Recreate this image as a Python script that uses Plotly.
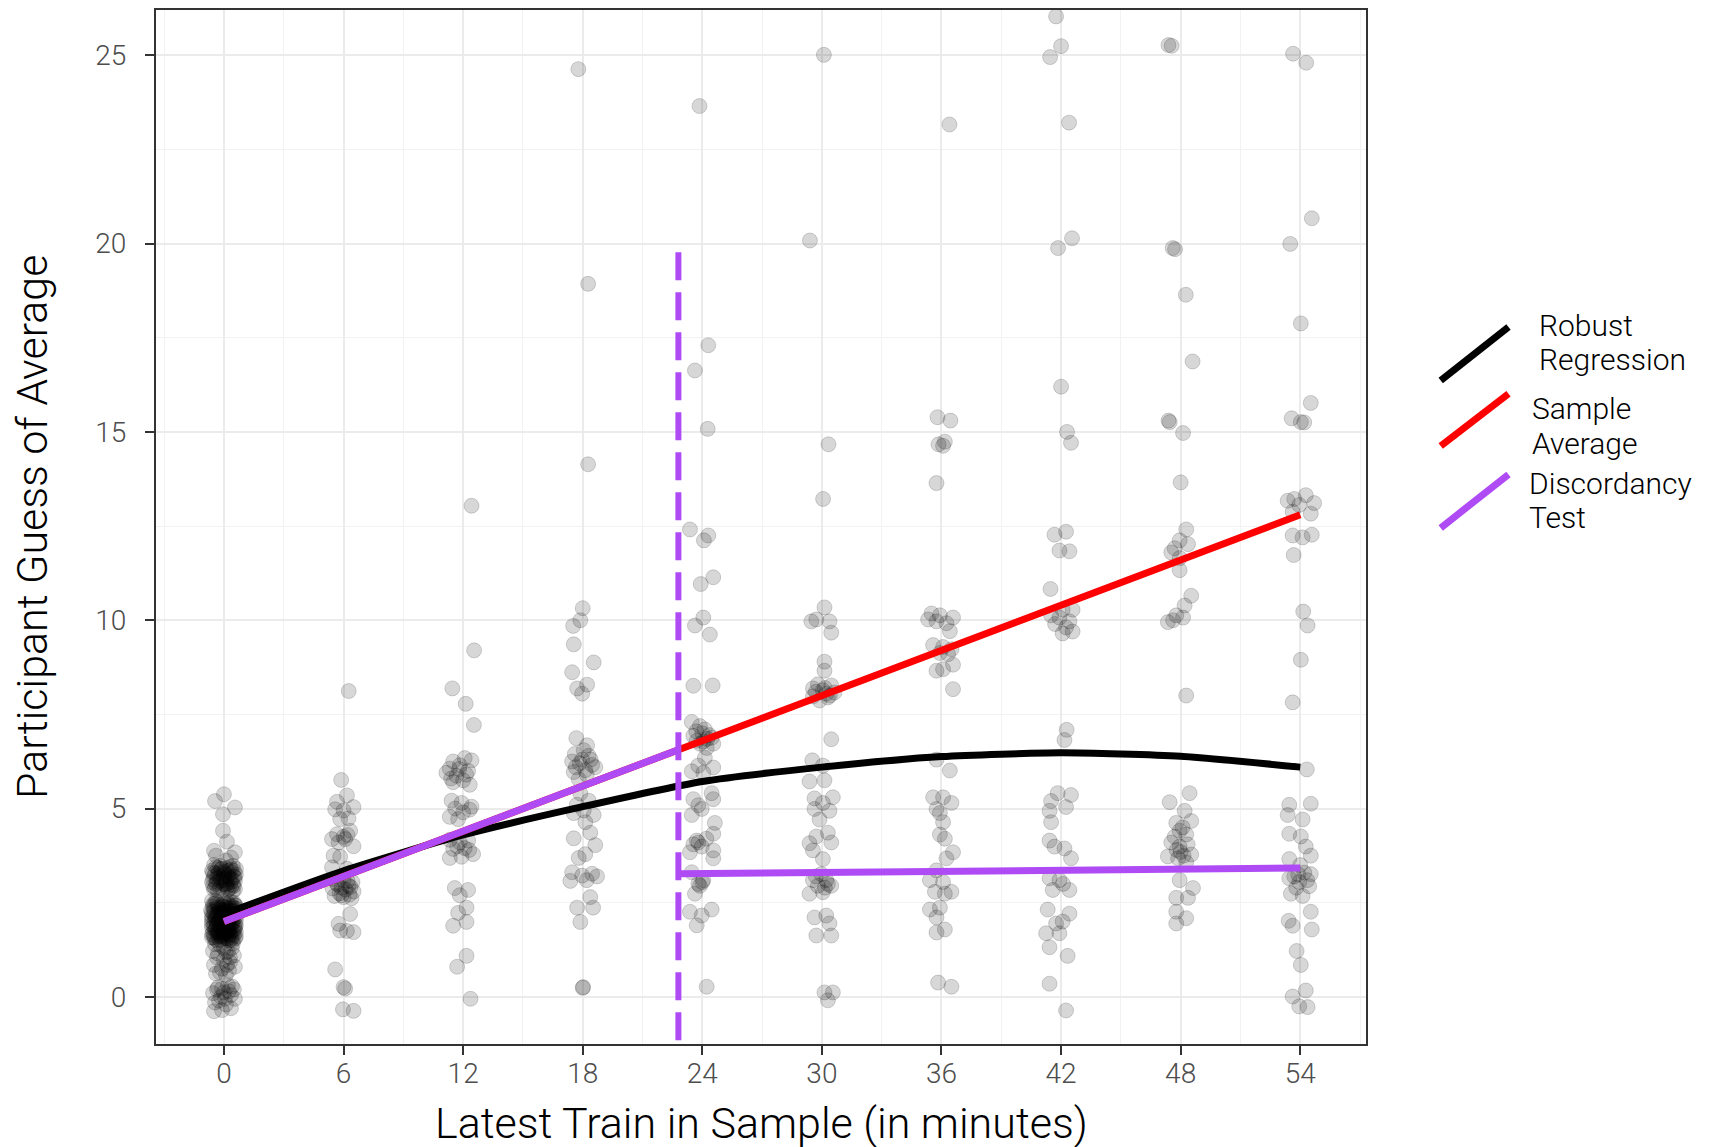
import plotly.graph_objects as go

# ---------------- data ----------------
x_levels = [0, 6, 12, 18, 24, 30, 36, 42, 48, 54]

# jittered guesses per column: (x offset, guess)
col_0 = [(0.0,5.38),(-0.45,5.2),(0.55,5.03),(-0.05,4.85),(-0.05,4.41),(0.15,4.12),(-0.5,3.88),(0.55,3.84),(-0.4,3.75),(0.35,3.7),(0.1,3.62),
         (-0.5,3.5),(-0.2,3.48),(0.3,3.45),(0.6,3.4),(-0.6,3.35),(0.0,3.32),(0.4,3.3),(-0.3,3.25),(0.2,3.2),(0.55,3.18),(-0.55,3.12),(-0.1,3.1),(0.35,3.05),(-0.4,3.0),(0.1,2.98),(0.5,2.95),(-0.2,2.9),(0.25,2.88),(-0.5,2.85),(0.45,2.8),(0.0,3.15),(-0.15,3.38),(0.15,2.92),(-0.35,3.05),
         (-0.4,3.45),(0.1,3.42),(0.5,3.35),(-0.25,3.3),(0.25,3.25),(-0.5,3.2),(0.0,3.22),(0.4,3.12),(-0.2,3.08),(0.15,3.02),(-0.55,2.95),(0.35,2.9),(-0.05,2.85),(0.55,2.86),(-0.3,2.82),
         (-0.1,3.4),(0.45,3.48),(-0.45,3.28),(0.2,3.35),(0.6,3.25),(-0.2,3.18),(0.3,3.15),(-0.6,3.05),(0.0,3.0),(0.45,2.98),
         (-0.6,2.55),(0.0,2.52),(0.5,2.5),(-0.3,2.45),(0.3,2.42),(-0.55,2.4),(0.1,2.38),(0.6,2.35),(-0.2,2.32),(0.35,2.3),(-0.5,2.27),(0.0,2.25),(0.55,2.22),(-0.35,2.2),(0.2,2.18),(-0.6,2.15),(0.45,2.12),(-0.1,2.1),(0.3,2.08),(-0.45,2.05),(0.6,2.03),(0.05,2.0),(-0.25,1.98),(0.4,1.95),(-0.6,1.92),(0.15,1.9),(-0.15,1.88),(0.55,1.85),(-0.4,1.82),(0.25,1.8),(-0.05,1.78),(0.5,1.75),(-0.55,1.72),(0.1,1.7),(-0.3,1.68),(0.35,1.65),(-0.1,1.62),(0.6,1.6),(-0.5,1.58),(0.2,1.55),(-0.2,1.52),(0.45,1.5),(0.0,2.3),(0.0,1.9),(-0.4,2.1),(0.3,1.7),(0.4,2.4),(-0.3,1.6),
         (-0.45,2.48),(0.25,2.47),(-0.1,2.43),(0.55,2.44),(-0.65,2.3),(0.15,2.28),(0.45,2.26),(-0.25,2.24),(0.05,2.15),(-0.5,2.18),(0.35,2.16),(0.6,2.12),(-0.2,2.05),(0.2,2.02),(-0.6,2.0),(0.45,1.98),(-0.35,1.95),(0.0,1.94),(0.3,1.88),(-0.5,1.86),(0.6,1.9),(-0.1,1.82),(0.15,1.8),(0.45,1.78),(-0.3,1.75),(0.0,1.72),(-0.6,1.66),(0.25,1.62),(0.5,1.64),(-0.15,1.58),(0.1,1.56),(-0.45,1.54),(0.35,1.52),(0.0,1.6),(-0.25,2.35),(0.2,2.33),(-0.4,2.55),(0.15,2.5),
         (-0.35,2.5),(0.35,2.52),(-0.05,2.4),(0.5,2.36),(-0.5,2.33),(0.25,2.22),(-0.15,2.2),(0.5,2.18),(-0.45,2.12),(0.1,2.06),(0.4,2.04),(-0.3,2.02),(0.15,1.96),(-0.5,1.94),(0.55,1.92),(-0.2,1.85),(0.35,1.82),(-0.45,1.78),(0.05,1.76),(0.6,1.72),(-0.25,1.7),(0.2,1.68),(-0.5,1.63),(0.4,1.58),(-0.05,1.55),(0.25,1.5),(-0.35,1.5),
         (-0.55,2.45),(0.05,2.46),(0.6,2.42),(-0.3,2.38),(0.3,2.36),(-0.6,2.25),(-0.05,2.28),(0.55,2.28),(-0.3,2.15),(0.25,2.12),(-0.6,2.08),(0.0,2.06),(0.5,2.06),(-0.35,1.92),(0.25,1.93),(-0.6,1.84),(0.05,1.84),(0.55,1.8),(-0.35,1.72),(0.25,1.74),(-0.6,1.58),(0.0,1.66),(0.55,1.55),(-0.2,1.62),
         (-0.3,3.42),(0.35,3.38),(-0.55,3.3),(0.05,3.28),(0.5,3.2),(-0.35,3.15),(0.1,3.1),(0.55,3.08),(-0.45,2.9),(0.2,2.84),
         (-0.2,1.38),(0.4,1.3),(-0.55,1.22),(0.1,1.18),(0.5,1.1),(-0.35,1.05),(0.0,0.98),(0.3,0.92),(-0.5,0.85),(0.55,0.8),(-0.1,0.75),(0.25,0.7),(-0.4,0.62),(0.1,0.58),
         (0.0,1.3),(-0.3,1.15),(0.3,1.05),(0.15,0.85),(-0.2,0.65),(0.45,1.42),(-0.45,1.4),(0.2,1.2),
         (-0.3,0.25),(0.2,0.3),(0.5,0.2),(-0.55,0.1),(0.0,0.12),(0.35,0.05),(-0.15,0.0),(0.55,-0.05),(-0.45,-0.15),(0.1,-0.2),(-0.1,-0.35),(0.35,-0.3),(-0.5,-0.38),
         (0.25,0.15),(-0.25,-0.1),(0.05,-0.05),(-0.35,0.2),(0.4,0.28),(-0.1,0.22)]
col_6 = [(0.26,8.12),(-0.12,5.76),(0.17,5.35),(-0.33,5.18),(0.5,5.04),(-0.42,4.98),(0.0,4.95),(0.25,4.74),(-0.17,4.72),(0.33,4.41),(-0.33,4.32),(-0.58,4.19),(0.08,4.19),(0.5,4.0),(-0.5,3.75),(-0.17,3.72),(-0.58,3.44),(0.17,3.4),
         (-0.5,3.13),(0.0,3.1),(0.45,3.05),(-0.3,2.98),(0.25,2.95),(-0.55,2.88),(0.1,2.85),(0.5,2.8),(-0.2,2.75),(0.3,2.72),(-0.45,2.68),(0.0,2.65),(0.4,2.62),(-0.1,2.9),
         (-0.35,3.02),(0.2,3.08),(-0.1,2.7),(0.35,2.92),(0.0,4.25),(-0.25,4.1),(0.2,4.3),
         (0.33,2.2),(-0.25,1.94),(-0.17,1.76),(0.17,1.75),(0.5,1.72),(-0.42,0.73),(0.0,0.26),(0.08,0.22),(-0.03,-0.33),(0.5,-0.37)]
col_12 = [(0.42,13.04),(0.55,9.2),(-0.54,8.19),(0.13,7.78),(0.54,7.22),
          (-0.5,6.25),(0.08,6.34),(0.42,6.28),(-0.67,6.06),(-0.17,6.15),(0.25,6.0),(-0.33,5.87),(0.33,5.63),(-0.84,5.95),(0.0,5.75),(-0.5,5.7),
          (-0.2,6.05),(0.15,5.9),(-0.6,5.8),
          (-0.58,5.21),(-0.08,5.15),(0.33,4.97),(-0.67,4.78),(-0.25,4.72),(0.42,5.05),(0.0,4.9),(-0.4,5.0),
          (-0.67,4.17),(-0.17,4.1),(0.25,4.15),(-0.5,3.93),(0.08,3.95),(0.5,3.79),(-0.67,3.69),(-0.08,3.72),(0.3,3.9),(-0.3,4.0),
          (-0.42,2.89),(0.25,2.84),(-0.17,2.7),(0.17,2.37),(-0.25,2.23),(-0.5,1.89),(0.17,1.99),(0.17,1.09),(-0.3,0.8),(0.37,-0.05)]
col_18 = [(-0.22,24.63),(0.27,18.93),(0.27,14.14),
          (0.0,10.32),(-0.12,10.0),(-0.48,9.85),(-0.45,9.36),(0.55,8.88),(-0.53,8.62),(0.22,8.29),(-0.28,8.19),(-0.03,8.05),
          (-0.32,6.87),(0.22,6.68),(-0.53,6.25),(-0.03,6.3),(0.47,6.16),(-0.45,5.97),(0.13,6.02),(0.63,6.1),(-0.2,5.78),(0.3,6.4),(-0.4,6.45),(0.05,6.55),
          (-0.15,6.2),(0.4,6.3),(-0.35,6.1),(0.2,5.9),
          (-0.12,5.4),(0.3,5.21),(-0.45,4.88),(0.05,4.95),(0.55,4.83),(0.13,4.64),(-0.3,5.1),
          (-0.45,4.21),(0.38,4.36),(0.63,4.03),(-0.2,3.69),(0.13,3.79),
          (-0.53,3.31),(-0.03,3.22),(0.47,3.27),(-0.62,3.08),(0.72,3.2),(0.2,3.1),
          (0.38,2.65),(-0.28,2.37),(0.52,2.37),(-0.12,1.99),(0.0,0.24),(0.02,0.26)]
col_24 = [(-0.14,23.65),(0.3,17.3),(-0.37,16.63),(0.27,15.08),
          (-0.62,12.41),(0.3,12.25),(0.08,12.12),(-0.08,10.96),(0.55,11.14),(0.05,10.07),(-0.37,9.86),(0.38,9.62),(-0.45,8.26),(0.52,8.27),
          (-0.53,7.3),(-0.12,7.19),(0.13,7.1),(-0.45,6.93),(0.47,6.88),(-0.12,6.72),(0.22,6.61),(-0.28,6.8),(0.55,6.72),(0.0,7.0),(0.35,6.95),
          (-0.3,7.05),(0.25,6.85),(0.05,6.78),
          (0.13,6.35),(-0.2,6.14),(0.55,6.09),(-0.53,5.99),(0.05,5.95),
          (0.47,5.41),(-0.45,5.25),(0.55,5.25),(-0.2,5.09),(-0.03,4.99),(-0.53,4.83),
          (0.63,4.62),(0.55,4.33),(-0.28,4.15),(-0.45,4.05),(-0.03,3.99),(-0.62,3.84),(0.55,3.89),(0.55,3.68),(-0.2,4.1),(0.2,4.2),
          (-0.53,3.31),(0.05,3.1),(-0.12,2.95),(-0.37,2.74),(0.0,3.05),(-0.2,3.0),
          (-0.62,2.26),(0.47,2.32),(-0.03,2.16),(-0.28,1.9),(0.22,0.27)]
col_30 = [(0.1,25.01),(-0.6,20.08),(0.33,14.67),(0.06,13.22),
          (0.13,10.34),(-0.53,9.97),(-0.28,10.02),(0.38,9.97),(0.47,9.67),(0.13,8.9),(0.13,8.66),
          (-0.45,8.19),(0.05,8.14),(0.47,8.27),(0.63,8.08),(-0.45,7.98),(0.22,8.05),(-0.12,7.87),(0.3,7.95),(-0.2,8.3),
          (-0.3,8.1),(0.15,8.2),(0.4,8.0),
          (0.47,6.84),(-0.48,6.28),(0.05,6.14),
          (-0.62,5.72),(0.13,5.75),(-0.37,5.27),(0.55,5.3),(0.05,5.15),(0.38,4.94),(-0.37,4.99),(-0.12,4.71),
          (0.3,4.36),(-0.28,4.26),(-0.62,4.08),(0.47,4.1),(-0.45,3.89),(0.05,3.66),
          (-0.03,3.26),(-0.45,3.1),(0.22,3.1),(-0.2,2.95),(0.47,2.95),(-0.62,2.74),(0.05,2.78),(0.3,3.0),(-0.3,3.2),(0.15,2.9),
          (-0.37,2.11),(0.22,2.16),(0.38,1.95),(0.47,1.63),(-0.28,1.63),
          (0.13,0.12),(0.55,0.12),(0.3,-0.09)]
col_36 = [(0.4,23.16),(-0.2,15.39),(0.45,15.3),(-0.15,14.67),(0.17,14.74),(0.08,14.63),(-0.25,13.64),
          (-0.5,10.18),(-0.08,10.13),(0.58,10.07),(-0.67,10.02),(-0.25,9.97),(0.25,9.92),(0.42,9.71),(-0.42,9.34),(0.08,9.29),(0.5,9.23),(-0.08,9.13),(0.33,9.1),(0.58,8.82),(-0.25,8.66),(0.08,8.7),
          (0.58,8.17),(-0.25,6.3),(0.42,6.01),
          (-0.42,5.3),(0.08,5.3),(0.5,5.15),(-0.25,4.99),(-0.08,4.88),(0.08,4.64),(-0.08,4.31),(0.17,4.2),(0.58,3.84),(0.25,3.68),(-0.25,3.36),(-0.58,3.1),(0.08,3.05),(-0.33,2.79),(0.17,2.74),(0.5,2.79),(-0.58,2.32),(-0.08,2.37),(-0.25,2.11),(0.17,1.79),(-0.25,1.71),
          (-0.17,0.38),(0.5,0.27)]
col_42 = [(-0.25,26.03),(0.0,25.24),(-0.55,24.95),(0.4,23.21),(0.55,20.14),(-0.15,19.88),(0.0,16.2),(0.3,15.0),(0.5,14.71),
          (-0.33,12.27),(0.25,12.35),(-0.08,11.85),(0.42,11.83),(-0.53,10.83),
          (0.08,10.28),(0.58,10.28),(-0.5,10.13),(-0.08,10.07),(0.42,9.97),(0.25,9.81),(0.08,9.65),(0.58,9.7),(-0.3,9.9),
          (0.28,7.09),(0.17,6.82),
          (-0.17,5.41),(0.5,5.36),(-0.5,5.2),(0.25,5.04),(-0.58,4.94),(-0.5,4.64),(-0.58,4.15),(0.17,3.94),(-0.33,3.99),(0.5,3.68),(-0.58,3.15),(-0.08,3.1),(0.42,2.84),(-0.42,2.84),(0.1,3.0),(-0.67,2.32),(0.08,2.0),(0.42,2.21),(-0.25,1.95),(-0.75,1.69),(-0.08,1.69),(-0.58,1.32),(0.33,1.09),(-0.58,0.35),(0.25,-0.36)]
col_48 = [(-0.61,25.27),(-0.45,25.25),(-0.4,19.88),(-0.28,19.85),(0.26,18.64),(0.6,16.87),(-0.61,15.3),(-0.55,15.26),(0.12,14.97),(0.0,13.66),
          (0.28,12.41),(-0.05,12.12),(-0.3,11.91),(0.37,12.02),(-0.47,11.8),(-0.05,11.65),(-0.05,11.33),
          (0.53,10.65),(0.2,10.39),(-0.22,10.13),(-0.64,9.95),(0.12,10.07),(-0.38,10.0),
          (0.28,8.0),
          (-0.55,5.17),(0.45,5.41),(0.2,4.94),(-0.22,4.62),(0.53,4.67),(-0.05,4.41),(0.28,4.31),(-0.47,4.1),(-0.05,3.99),(0.53,3.78),(-0.64,3.73),(-0.13,3.68),(0.28,3.57),(0.0,3.85),(0.35,4.05),(-0.3,4.25),
          (0.1,4.5),(-0.2,3.9),(0.15,3.75),
          (-0.05,3.1),(0.62,2.89),(-0.22,2.63),(0.37,2.63),(-0.22,2.26),(-0.22,1.95),(0.28,2.09)]
col_54 = [(-0.36,25.04),(0.3,24.8),(0.58,20.67),(-0.5,19.99),(0.03,17.88),(0.53,15.77),(-0.43,15.36),(0.2,15.25),(0.03,15.26),
          (-0.3,13.22),(0.28,13.32),(-0.63,13.17),(0.7,13.11),(-0.05,13.06),(0.53,12.83),(-0.38,12.88),(0.12,12.2),(-0.38,12.25),(0.58,12.27),(-0.33,11.73),
          (0.15,10.23),(0.37,9.86),(0.03,8.95),(-0.38,7.82),(0.33,6.04),
          (-0.55,5.1),(0.53,5.13),(-0.63,4.83),(0.12,4.71),(-0.55,4.33),(0.03,4.26),(0.28,3.99),(-0.55,3.66),(0.53,3.75),(0.53,3.26),(-0.55,3.15),(-0.05,3.05),(0.45,2.94),(-0.47,2.74),(0.12,2.68),(0.2,3.3),(-0.2,2.9),(0.0,3.5),
          (-0.3,3.2),(0.35,3.1),(-0.1,3.25),
          (0.53,2.26),(-0.58,2.02),(-0.38,1.89),(0.58,1.79),(-0.18,1.22),(0.03,0.85),(0.28,0.17),(-0.38,0.01),(-0.05,-0.25),(0.37,-0.27)]
columns = [col_0, col_6, col_12, col_18, col_24, col_30, col_36, col_42, col_48, col_54]

# fitted lines
robust_x = [0, 6, 12, 18, 24, 30, 36, 42, 48, 54]
robust_y = [2.2, 3.35, 4.3, 5.05, 5.72, 6.1, 6.38, 6.48, 6.39, 6.1]
avg_x = [0, 54]
avg_y = [2.0, 12.8]
disc1_x = [0, 22.8]
disc1_y = [2.0, 6.56]
disc2_x = [22.8, 54]
disc2_y = [3.27, 3.42]
cut_x = [22.8, 22.8]
cut_y = [-1.15, 19.8]

legend_labels = [["Robust", "Regression"], ["Sample", "Average"], ["Discordancy", "Test"]]

# ---------------- styling ----------------
W, H = 1714, 1147
L, R, T, B = 156, 1366, 8, 1044   # plot area in page pixels
PURPLE = "#AF4BF5"
FONT = "Roboto"

def px(xp):
    return (xp - L) / (R - L)

def py(yp):
    return (B - yp) / (B - T)

pts_x, pts_y = [], []
for xl, col in zip(x_levels, columns):
    for dx, yv in col:
        pts_x.append(xl + dx)
        pts_y.append(yv)

fig = go.Figure()
fig.add_trace(go.Scatter(x=pts_x, y=pts_y, mode="markers", showlegend=False,
                         marker=dict(size=15, color="rgba(0,0,0,0.155)",
                                     line=dict(color="rgba(0,0,0,0.16)", width=1))))
fig.add_trace(go.Scatter(x=robust_x, y=robust_y, mode="lines", showlegend=False,
                         line=dict(color="black", width=7, shape="spline", smoothing=0.6)))
fig.add_trace(go.Scatter(x=avg_x, y=avg_y, mode="lines", showlegend=False,
                         line=dict(color="#FF0000", width=7)))
fig.add_trace(go.Scatter(x=disc1_x, y=disc1_y, mode="lines", showlegend=False,
                         line=dict(color=PURPLE, width=7)))
fig.add_trace(go.Scatter(x=disc2_x, y=disc2_y, mode="lines", showlegend=False,
                         line=dict(color=PURPLE, width=7)))
fig.add_trace(go.Scatter(x=cut_x, y=cut_y, mode="lines", showlegend=False,
                         line=dict(color=PURPLE, width=6, dash="28px,12px")))

grid_major = "#EBEBEB"
axis_common = dict(showgrid=True, gridcolor=grid_major, gridwidth=1.6,
                   zeroline=False, showline=True, mirror=True,
                   linecolor="#333333", linewidth=2,
                   ticks="outside", ticklen=9, tickwidth=2, tickcolor="#333333",
                   tickfont=dict(family=FONT, size=28, color="#4D4D4D", weight=300))
fig.update_xaxes(range=[-3.41, 57.3], tick0=0, dtick=6, ticklabelstandoff=-6,
                 minor=dict(dtick=3, tick0=0, showgrid=True, gridcolor="#F2F2F2", gridwidth=0.9, ticks=""),
                 **axis_common)
fig.update_yaxes(range=[-1.25, 26.2], tick0=0, dtick=5, ticklabelstandoff=13,
                 minor=dict(dtick=2.5, tick0=0, showgrid=True, gridcolor="#F2F2F2", gridwidth=0.9, ticks=""),
                 **axis_common)

annotations = [
    dict(text="Latest Train in Sample (in minutes)", x=px((L + R) / 2), y=py(1123),
         xref="paper", yref="paper", showarrow=False, xanchor="center", yanchor="middle",
         font=dict(family=FONT, size=43, color="black", weight=300)),
    dict(text="Participant Guess of Average", x=px(32), y=py(526),
         xref="paper", yref="paper", showarrow=False, xanchor="center", yanchor="middle",
         textangle=-90, font=dict(family=FONT, size=43, color="black", weight=300)),
]
legend_glyphs = [((1440.7, 379.3), (1508.5, 325.7), "black"),
                 ((1440.7, 444.9), (1508.5, 392.4), "#FF0000"),
                 ((1440.7, 526.9), (1508.5, 473.3), PURPLE)]
legend_text_pos = [(1537, 324.6, 358.5), (1530.5, 407.7, 442.7), (1527, 482, 516)]
shapes = []
for (p0, p1, c), lines, (tx, ty1, ty2) in zip(legend_glyphs, legend_labels, legend_text_pos):
    shapes.append(dict(type="line", xref="paper", yref="paper",
                       x0=px(p0[0]), y0=py(p0[1]), x1=px(p1[0]), y1=py(p1[1]),
                       line=dict(color=c, width=7)))
    for lab, ty in zip(lines, (ty1, ty2)):
        annotations.append(dict(text=lab, x=px(tx), y=py(ty), xref="paper", yref="paper",
                                showarrow=False, xanchor="left", yanchor="middle", align="left",
                                font=dict(family=FONT, size=30, color="black", weight=300)))

fig.update_layout(width=W, height=H,
                  margin=dict(l=L, r=W - R, t=T, b=H - B),
                  paper_bgcolor="white", plot_bgcolor="white",
                  shapes=shapes, annotations=annotations, showlegend=False)

fig.write_html("out.html", config={"displayModeBar": False},
               post_script="document.body.style.margin='0px';")
